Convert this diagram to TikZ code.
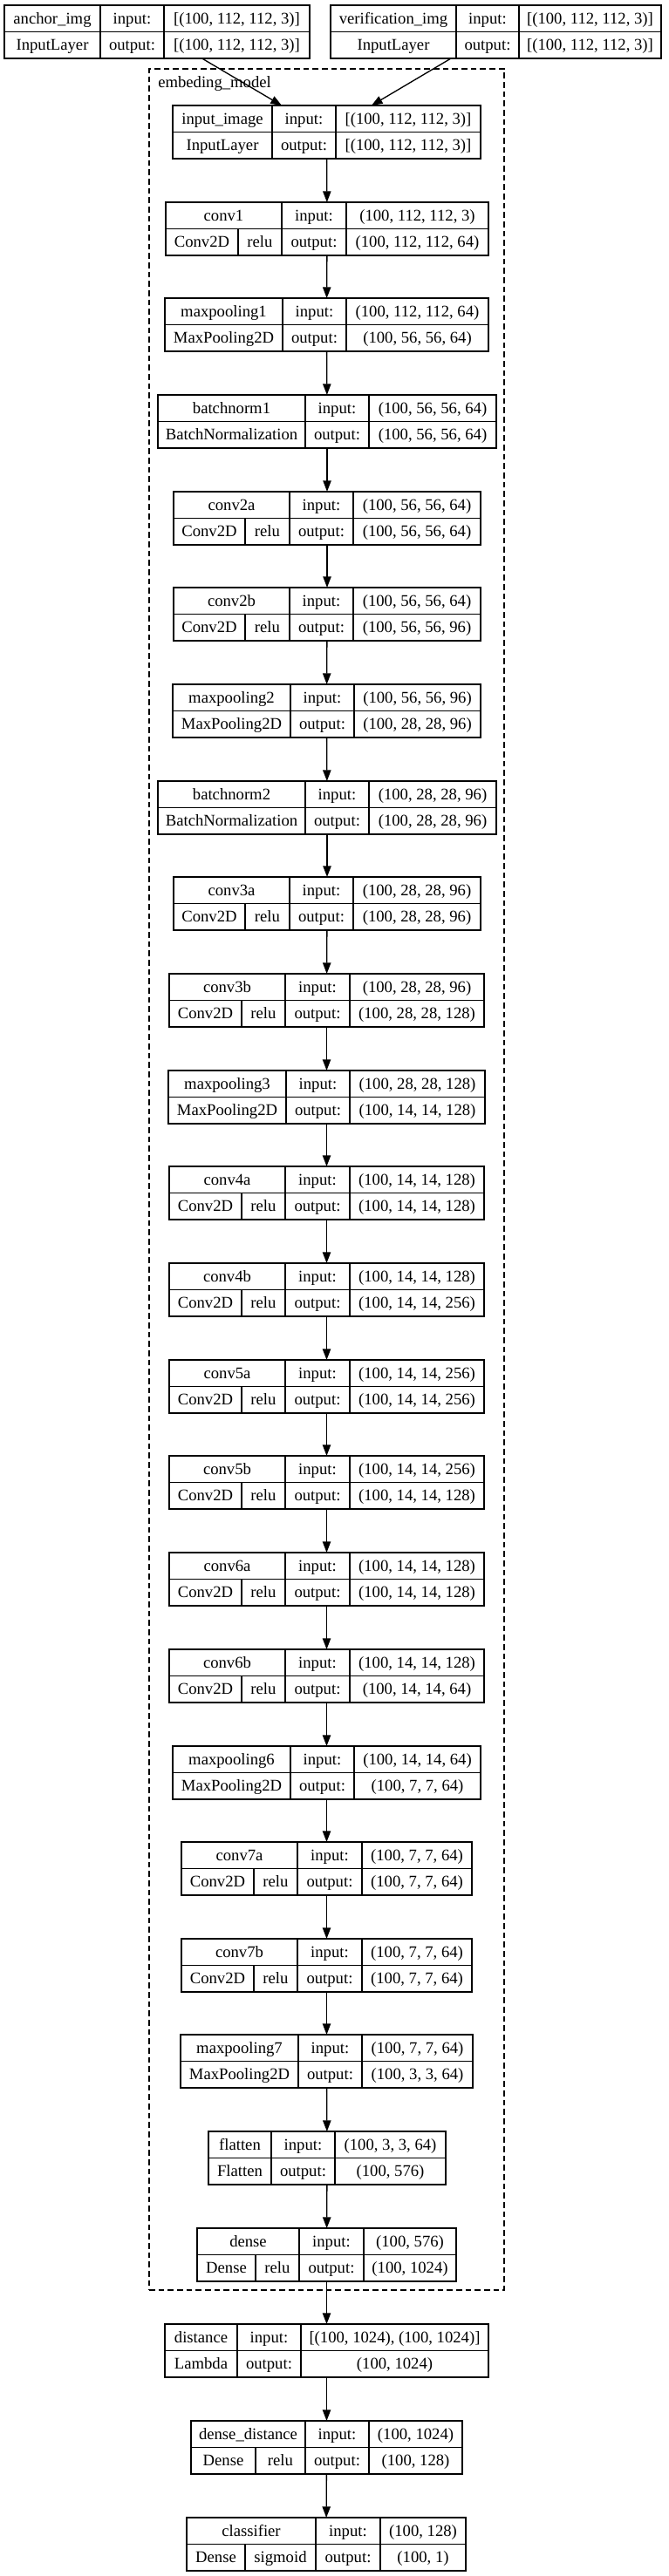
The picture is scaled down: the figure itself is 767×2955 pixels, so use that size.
\documentclass[tikz,border=0pt]{standalone}
\usepackage{fontspec}
\setmainfont{Liberation Serif}
\usetikzlibrary{arrows.meta}

\tikzset{
  layerbox/.style={draw, line width=1pt, inner sep=0pt, outer sep=0pt, minimum height=45.75pt, anchor=north west},
  celltext/.style={inner sep=0pt, anchor=base, font=\fontsize{14}{16}\selectfont},
  edge/.style={line width=1pt, -{Triangle[length=9.5pt, width=7pt]}},
  cluster/.style={draw, line width=1pt, dash pattern=on 5pt off 3pt, inner sep=0pt, outer sep=0pt, anchor=north west}
}

\begin{document}
\begin{tikzpicture}[x=0.75pt, y=-0.75pt]
\useasboundingbox (0,0) rectangle (767,2955);

% embeding_model cluster
\node[cluster, minimum width=305.25pt, minimum height=1911pt] (embed) at (171,79) {};
\node[celltext, anchor=base west] (embedlabel) at (181,100) {embeding\_model};

% name/top/x0/split/col1/col2/x1/title/class/activation/input/output
\foreach \nm/\yt/\xa/\xs/\xb/\xc/\xd/\ttl/\typ/\act/\inp/\outp in {
  anchor/6/5/0/115/188/355/anchor\_img/InputLayer/-/{[(100, 112, 112, 3)]}/{[(100, 112, 112, 3)]},
  verif/6/379/0/523/595/758/verification\_img/InputLayer/-/{[(100, 112, 112, 3)]}/{[(100, 112, 112, 3)]},
  inimg/121/198/0/312/385/551/input\_image/InputLayer/-/{[(100, 112, 112, 3)]}/{[(100, 112, 112, 3)]},
  conv1/232/190/273/323/397/560/conv1/Conv2D/relu/{(100, 112, 112, 3)}/{(100, 112, 112, 64)},
  pool1/342/189/0/324/397/560/maxpooling1/MaxPooling2D/-/{(100, 112, 112, 64)}/{(100, 56, 56, 64)},
  bn1/453/181/0/350/423/569/batchnorm1/BatchNormalization/-/{(100, 56, 56, 64)}/{(100, 56, 56, 64)},
  conv2a/564/199/281/332/405/551/conv2a/Conv2D/relu/{(100, 56, 56, 64)}/{(100, 56, 56, 64)},
  conv2b/674/199/281/332/405/551/conv2b/Conv2D/relu/{(100, 56, 56, 64)}/{(100, 56, 56, 96)},
  pool2/785/198/0/333/406/551/maxpooling2/MaxPooling2D/-/{(100, 56, 56, 96)}/{(100, 28, 28, 96)},
  bn2/896/181/0/350/423/569/batchnorm2/BatchNormalization/-/{(100, 28, 28, 96)}/{(100, 28, 28, 96)},
  conv3a/1006/199/281/332/405/551/conv3a/Conv2D/relu/{(100, 28, 28, 96)}/{(100, 28, 28, 96)},
  conv3b/1117/194/277/327/401/555/conv3b/Conv2D/relu/{(100, 28, 28, 96)}/{(100, 28, 28, 128)},
  pool3/1228/193/0/328/401/556/maxpooling3/MaxPooling2D/-/{(100, 28, 28, 128)}/{(100, 14, 14, 128)},
  conv4a/1338/194/277/327/401/555/conv4a/Conv2D/relu/{(100, 14, 14, 128)}/{(100, 14, 14, 128)},
  conv4b/1449/194/277/327/401/555/conv4b/Conv2D/relu/{(100, 14, 14, 128)}/{(100, 14, 14, 256)},
  conv5a/1560/194/277/327/401/555/conv5a/Conv2D/relu/{(100, 14, 14, 256)}/{(100, 14, 14, 256)},
  conv5b/1670/194/277/327/401/555/conv5b/Conv2D/relu/{(100, 14, 14, 256)}/{(100, 14, 14, 128)},
  conv6a/1781/194/277/327/401/555/conv6a/Conv2D/relu/{(100, 14, 14, 128)}/{(100, 14, 14, 128)},
  conv6b/1892/194/277/327/401/555/conv6b/Conv2D/relu/{(100, 14, 14, 128)}/{(100, 14, 14, 64)},
  pool6/2003/198/0/333/406/551/maxpooling6/MaxPooling2D/-/{(100, 14, 14, 64)}/{(100, 7, 7, 64)},
  conv7a/2113/208/291/341/415/541/conv7a/Conv2D/relu/{(100, 7, 7, 64)}/{(100, 7, 7, 64)},
  conv7b/2224/208/291/341/415/541/conv7b/Conv2D/relu/{(100, 7, 7, 64)}/{(100, 7, 7, 64)},
  pool7/2334/207/0/342/415/542/maxpooling7/MaxPooling2D/-/{(100, 7, 7, 64)}/{(100, 3, 3, 64)},
  flat/2445/239/0/311/384/511/flatten/Flatten/-/{(100, 3, 3, 64)}/{(100, 576)},
  dense/2556/226/293/343/417/523/dense/Dense/relu/{(100, 576)}/{(100, 1024)},
  dist/2666/189/0/272/345/560/distance/Lambda/-/{[(100, 1024), (100, 1024)]}/{(100, 1024)},
  ddist/2777/219/293/350/423/530/dense\_distance/Dense/relu/{(100, 1024)}/{(100, 128)},
  clf/2888/214/281/362/436/534/classifier/Dense/sigmoid/{(100, 128)}/{(100, 1)}%
}{
  \node[layerbox, minimum width={(\xd-\xa)*0.75pt}] (\nm) at (\xa,\yt) {};
  \draw[line width=1pt] (\xa,{\yt+30.5}) -- (\xd,{\yt+30.5})
    (\xb,\yt) -- (\xb,{\yt+61}) (\xc,\yt) -- (\xc,{\yt+61});
  \node[celltext] (\nm-n) at ({(\xa+\xb)/2},{\yt+21}) {\ttl};
  \node[celltext] (\nm-in) at ({(\xb+\xc)/2},{\yt+21}) {input:};
  \node[celltext] (\nm-is) at ({(\xc+\xd)/2},{\yt+21}) {\inp};
  \node[celltext] (\nm-on) at ({(\xb+\xc)/2},{\yt+51.5}) {output:};
  \node[celltext] (\nm-os) at ({(\xc+\xd)/2},{\yt+51.5}) {\outp};
  \ifnum\xs=0
    \node[celltext] (\nm-k) at ({(\xa+\xb)/2},{\yt+51.5}) {\typ};
  \else
    \draw[line width=1pt] (\xs,{\yt+30.5}) -- (\xs,{\yt+61});
    \node[celltext] (\nm-k) at ({(\xa+\xs)/2},{\yt+51.5}) {\typ};
    \node[celltext] (\nm-a) at ({(\xs+\xb)/2},{\yt+51.5}) {\act};
  \fi
}

% connectors
\draw[edge] (anchor) -- (inimg);
\draw[edge] (verif) -- (inimg);
\foreach \a/\b in {inimg/conv1, conv1/pool1, pool1/bn1, bn1/conv2a, conv2a/conv2b,
  conv2b/pool2, pool2/bn2, bn2/conv3a, conv3a/conv3b, conv3b/pool3, pool3/conv4a,
  conv4a/conv4b, conv4b/conv5a, conv5a/conv5b, conv5b/conv6a, conv6a/conv6b,
  conv6b/pool6, pool6/conv7a, conv7a/conv7b, conv7b/pool7, pool7/flat, flat/dense,
  dense/dist, dist/ddist, ddist/clf}
  \draw[edge] (\a) -- (\b);
\end{tikzpicture}
\end{document}
